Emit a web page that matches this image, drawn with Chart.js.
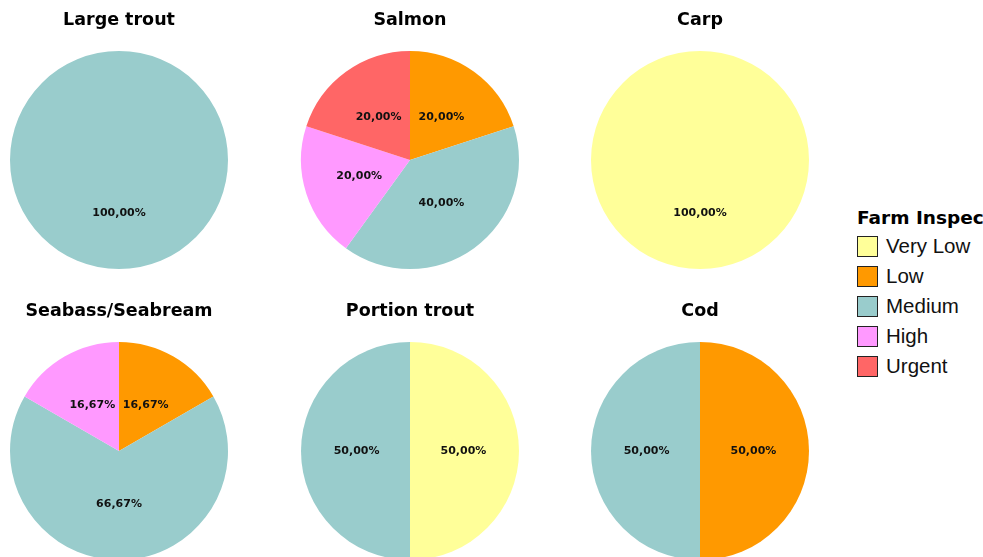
<!DOCTYPE html>
<html>
<head>
<meta charset="utf-8">
<script src="https://cdn.jsdelivr.net/npm/chart.js@4.4.0/dist/chart.umd.min.js"></script>
<style>
  html, body { margin: 0; padding: 0; background: #fff; }
  body { width: 983px; height: 557px; overflow: hidden; position: relative; }
  canvas { position: absolute; }
  #legend { position: absolute; left: 857px; top: 205px; font-family: "Liberation Sans", Arial, sans-serif; }
  #legend .title { font-family: "DejaVu Sans", Verdana, sans-serif; font-weight: bold; font-size: 18.5px; color: #000; height: 26px; line-height: 26px; white-space: nowrap; }
  #legend .item { height: 30px; display: flex; align-items: center; font-size: 20.5px; color: #111; white-space: nowrap; }
  #legend .box { width: 19px; height: 19px; border: 1.5px solid #222; margin-right: 8px; box-sizing: content-box; }
</style>
</head>
<body>
<canvas id="c0" width="230" height="269" style="left:4px;top:0px"></canvas>
<canvas id="c1" width="230" height="269" style="left:295px;top:0px"></canvas>
<canvas id="c2" width="230" height="269" style="left:585px;top:0px"></canvas>
<canvas id="c3" width="230" height="269" style="left:4px;top:291px"></canvas>
<canvas id="c4" width="230" height="269" style="left:295px;top:291px"></canvas>
<canvas id="c5" width="230" height="269" style="left:585px;top:291px"></canvas>
<div id="legend"></div>
<script>
// ====== DADOS ======
const legendTitle = "Farm Inspec";
const categories = ["Very Low", "Low", "Medium", "High", "Urgent"];
const colors = ["#FFFF99", "#FF9900", "#99CCCC", "#FF99FF", "#FF6666"];

const species = ["Large trout", "Salmon", "Carp", "Seabass/Seabream", "Portion trout", "Cod"];
// counts per category (Very Low, Low, Medium, High, Urgent)
const largeTrout = [0, 0, 1, 0, 0];
const salmon = [0, 1, 2, 1, 1];
const carp = [1, 0, 0, 0, 0];
const seabass = [0, 1, 4, 1, 0];
const portionTrout = [1, 0, 1, 0, 0];
const cod = [0, 1, 1, 0, 0];
const seriesList = [largeTrout, salmon, carp, seabass, portionTrout, cod];

// ====== RÓTULOS DE PORCENTAGEM ======
const pctLabels = {
  id: "pctLabels",
  afterDatasetsDraw(chart) {
    const ctx = chart.ctx;
    const data = chart.data.datasets[0].data;
    const total = data.reduce((a, b) => a + b, 0);
    const meta = chart.getDatasetMeta(0);
    ctx.save();
    ctx.font = "bold 11px 'DejaVu Sans', Verdana, sans-serif";
    ctx.fillStyle = "#111";
    ctx.textAlign = "center";
    ctx.textBaseline = "middle";
    meta.data.forEach((arc, i) => {
      if (!data[i]) return;
      const p = arc.getProps(["x", "y", "startAngle", "endAngle", "outerRadius"], true);
      const mid = (p.startAngle + p.endAngle) / 2;
      const r = p.outerRadius * 0.49;
      const txt = (data[i] / total * 100).toFixed(2).replace(".", ",") + "%";
      ctx.fillText(txt, p.x + Math.cos(mid) * r, p.y + Math.sin(mid) * r);
    });
    ctx.restore();
  }
};

// ====== GRÁFICOS ======
species.forEach((name, idx) => {
  const ctx = document.getElementById("c" + idx).getContext("2d");
  new Chart(ctx, {
    type: "pie",
    data: {
      labels: categories,
      datasets: [{ data: seriesList[idx], backgroundColor: colors, borderWidth: 0 }]
    },
    options: {
      responsive: false,
      animation: false,
      events: [],
      layout: { padding: 0 },
      plugins: {
        legend: { display: false },
        tooltip: { enabled: false },
        title: {
          display: true,
          text: name,
          color: "#000",
          font: { family: "'DejaVu Sans', Verdana, sans-serif", size: 17.5, weight: "bold", lineHeight: 1.2 },
          padding: { top: 9.5, bottom: 20.5 }
        }
      }
    },
    plugins: [pctLabels]
  });
});

// ====== LEGENDA ======
const legend = document.getElementById("legend");
const t = document.createElement("div");
t.className = "title";
t.textContent = legendTitle;
legend.appendChild(t);
categories.forEach((c, i) => {
  const item = document.createElement("div");
  item.className = "item";
  item.innerHTML = `<span class="box" style="background:${colors[i]}"></span><span>${c}</span>`;
  legend.appendChild(item);
});
</script>
</body>
</html>
